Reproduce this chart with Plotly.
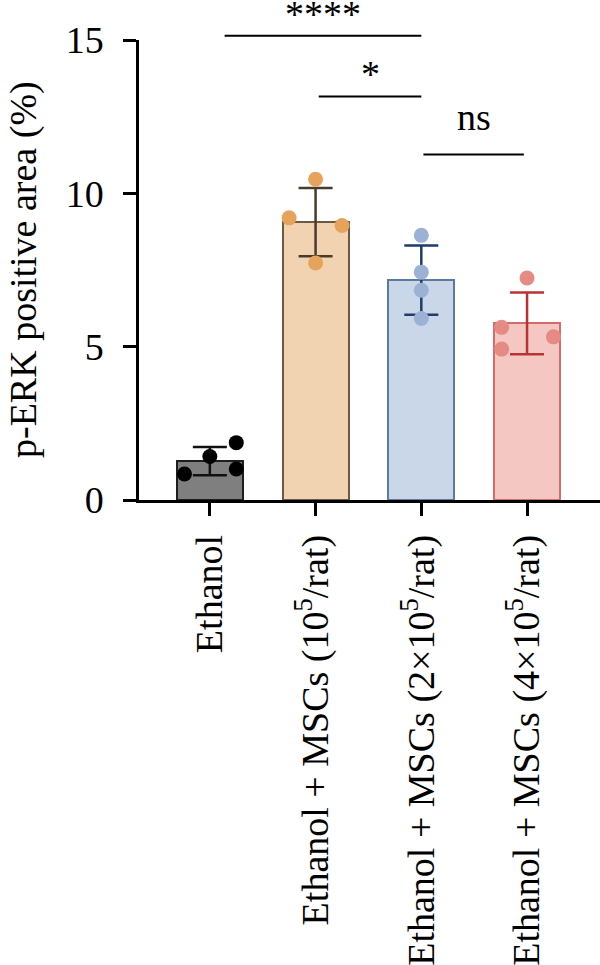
import plotly.graph_objects as go

# ---------------- data ----------------
categories = [
    "Ethanol",
    "Ethanol + MSCs (10<sup>5</sup>/rat)",
    "Ethanol + MSCs (2×10<sup>5</sup>/rat)",
    "Ethanol + MSCs (4×10<sup>5</sup>/rat)",
]
means = [1.27, 9.06, 7.17, 5.76]
sds = [0.46, 1.11, 1.13, 1.01]

points = [
    [0.85, 1.42, 1.87, 1.01],
    [10.46, 9.20, 8.95, 7.73],
    [8.63, 7.43, 6.84, 5.92],
    [7.24, 5.63, 5.32, 4.92],
]
jitter = [
    [-0.24, 0.0, 0.25, 0.25],
    [0.0, -0.25, 0.25, 0.0],
    [0.0, 0.0, 0.0, 0.0],
    [0.0, -0.24, 0.25, -0.24],
]

y_ticks = [0, 5, 10, 15]
y_title = "p-ERK positive area (%)"

# comparisons: (x start, x end, y level, label)
comparisons = [
    (0.14, 2.00, 15.14, "****"),
    (1.03, 2.00, 13.16, "*"),
    (2.02, 2.97, 11.27, "ns"),
]

# ---------------- styles ----------------
fills = ["#7f7f7f", "#f2d3b1", "#c9d7e8", "#f4c7c3"]
outlines = ["#1e1e1e", "#6e5a44", "#5b7aa0", "#d46c6c"]
err_colors = ["#111111", "#4a3a2a", "#1f3d66", "#b83434"]
dot_colors = ["#000000", "#e6a35c", "#9cb2d5", "#e68a84"]

FONT = "Liberation Serif"
FS = 38
XR = [-0.67, 3.69]
YR = [0, 15]

fig = go.Figure()

for i in range(len(categories)):
    fig.add_trace(go.Bar(
        x=[i], y=[means[i]], width=0.625,
        marker=dict(color=fills[i], line=dict(color=outlines[i], width=2)),
        error_y=dict(type="data", array=[sds[i]], visible=True,
                     color=err_colors[i], thickness=2.5, width=17),
        showlegend=False, hoverinfo="skip",
    ))

for i in range(len(categories)):
    fig.add_trace(go.Scatter(
        x=[i + j for j in jitter[i]], y=points[i], mode="markers",
        marker=dict(color=dot_colors[i], size=15, line=dict(width=0)),
        showlegend=False, hoverinfo="skip", cliponaxis=False,
    ))

def px_x(x):
    return (x - XR[0]) / (XR[1] - XR[0])

def px_y(y):
    return (y - YR[0]) / (YR[1] - YR[0])

shapes = []
annotations = []
for x0, x1, yv, lab in comparisons:
    shapes.append(dict(type="line", xref="paper", yref="paper",
                       x0=px_x(x0), x1=px_x(x1), y0=px_y(yv), y1=px_y(yv),
                       line=dict(color="black", width=2)))
    annotations.append(dict(xref="paper", yref="paper",
                            x=px_x((x0 + x1) / 2), y=px_y(yv),
                            text=lab, showarrow=False,
                            xanchor="center", yanchor="bottom",
                            yshift=14 if lab == "ns" else -1,
                            font=dict(family=FONT, size=FS, color="black")))

annotations.append(dict(xref="paper", yref="paper", x=-0.2516, y=0.5,
                        text=y_title, textangle=-90, showarrow=False,
                        xanchor="center", yanchor="middle",
                        font=dict(family=FONT, size=FS, color="black")))

fig.update_layout(
    width=600, height=965,
    margin=dict(l=139, r=0, t=40, b=465, autoexpand=False),
    paper_bgcolor="white", plot_bgcolor="white",
    bargap=0,
    font=dict(family=FONT, size=FS, color="black"),
    shapes=shapes, annotations=annotations,
)
fig.update_xaxes(
    range=XR, tickvals=list(range(len(categories))), ticktext=categories,
    tickangle=-90, showline=True, linecolor="black", linewidth=2.5,
    ticks="outside", ticklen=13, tickwidth=2.5, tickcolor="black",
    showgrid=False, zeroline=False, ticklabelstandoff=4,
    tickfont=dict(family=FONT, size=FS, color="black"), automargin=False,
)
fig.update_yaxes(
    range=YR, tickvals=y_ticks, showline=True, linecolor="black", linewidth=2.5,
    ticks="outside", ticklen=13, tickwidth=2.5, tickcolor="black",
    showgrid=False, zeroline=False, ticklabelstandoff=12,
    tickfont=dict(family=FONT, size=FS, color="black"), automargin=False,
)

fig.write_html("out.html")
